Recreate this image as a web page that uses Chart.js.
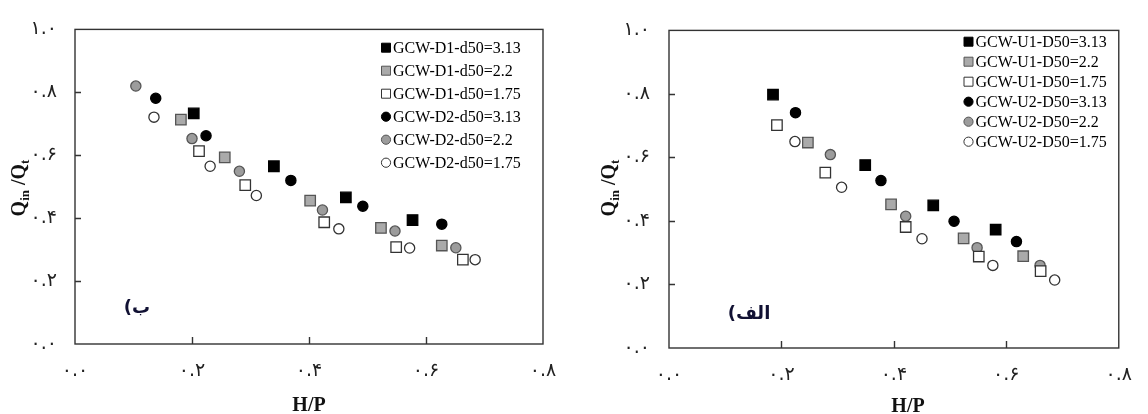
<!DOCTYPE html>
<html><head><meta charset="utf-8">
<script src="https://cdn.jsdelivr.net/npm/chart.js@4.4.1/dist/chart.umd.min.js"></script>
<style>
body{margin:0;background:#fff;width:1148px;height:414px;overflow:hidden;position:relative}
.p{position:absolute;top:0;width:574px;height:414px}
canvas{display:block}
</style></head>
<body>
<div class="p" style="left:0"><canvas id="c1" width="574" height="414"></canvas></div>
<div class="p" style="left:574px"><canvas id="c2" width="574" height="414"></canvas></div>
<script>
// ---- tick labels (Persian digits) ----
const xTickLabels = ['۰.۰','۰.۲','۰.۴','۰.۶','۰.۸'];
const yTickLabels = ['۰.۰','۰.۲','۰.۴','۰.۶','۰.۸','۱.۰'];

// ---- left panel (ب) ----
const leftNames = ['GCW-D1-d50=3.13','GCW-D1-d50=2.2','GCW-D1-d50=1.75','GCW-D2-d50=3.13','GCW-D2-d50=2.2','GCW-D2-d50=1.75'];
const D1_313_x = [0.203,0.340,0.463,0.577];
const D1_313_y = [0.733,0.565,0.466,0.394];
const D1_22_x  = [0.181,0.256,0.402,0.523,0.627];
const D1_22_y  = [0.713,0.593,0.456,0.369,0.313];
const D1_175_x = [0.212,0.291,0.426,0.549,0.663];
const D1_175_y = [0.613,0.505,0.387,0.308,0.268];
const D2_313_x = [0.138,0.224,0.369,0.492,0.627];
const D2_313_y = [0.781,0.662,0.520,0.438,0.381];
const D2_22_x  = [0.104,0.200,0.281,0.423,0.547,0.651];
const D2_22_y  = [0.820,0.653,0.549,0.426,0.359,0.306];
const D2_175_x = [0.135,0.231,0.310,0.451,0.572,0.684];
const D2_175_y = [0.721,0.565,0.472,0.366,0.305,0.268];

// ---- right panel (الف) ----
const rightNames = ['GCW-U1-D50=3.13','GCW-U1-D50=2.2','GCW-U1-D50=1.75','GCW-U2-D50=3.13','GCW-U2-D50=2.2','GCW-U2-D50=1.75'];
const U1_313_x = [0.185,0.349,0.470,0.581];
const U1_313_y = [0.798,0.576,0.449,0.373];
const U1_22_x  = [0.247,0.395,0.524,0.630];
const U1_22_y  = [0.647,0.452,0.345,0.289];
const U1_175_x = [0.192,0.278,0.421,0.551,0.661];
const U1_175_y = [0.702,0.552,0.381,0.288,0.242];
const U2_313_x = [0.225,0.377,0.507,0.618];
const U2_313_y = [0.741,0.527,0.399,0.335];
const U2_22_x  = [0.287,0.421,0.548,0.660];
const U2_22_y  = [0.609,0.415,0.316,0.260];
const U2_175_x = [0.224,0.307,0.450,0.576,0.686];
const U2_175_y = [0.650,0.506,0.344,0.260,0.214];

// ---- marker styles (order: black sq, gray sq, open sq, black circ, gray circ, open circ) ----
const markerStyles = [
  {shape:'rect',   fill:'#000000', stroke:'#000000'},
  {shape:'rect',   fill:'#aaaaaa', stroke:'#555555'},
  {shape:'rect',   fill:'#ffffff', stroke:'#333333'},
  {shape:'circle', fill:'#000000', stroke:'#000000'},
  {shape:'circle', fill:'#9c9c9c', stroke:'#555555'},
  {shape:'circle', fill:'#ffffff', stroke:'#333333'}
];

function pts(xs, ys){ return xs.map((x,i)=>({x:x, y:ys[i]})); }
function makeDatasets(names, series){
  return series.map((s,i)=>{
    const st = markerStyles[i];
    return {
      label: names[i],
      data: pts(s[0], s[1]),
      pointStyle: st.shape,
      pointRadius: st.shape==='rect' ? 7.4 : 5.1,
      pointBackgroundColor: st.fill,
      pointBorderColor: st.stroke,
      pointBorderWidth: 1.3,
      showLine: false
    };
  });
}

const tickFont = {family:'"DejaVu Sans"', size:19};

function framePlugin(){
  return {
    id:'frame',
    beforeDatasetsDraw(chart){
      const ctx = chart.ctx, a = chart.chartArea;
      const xs = chart.scales.x, ys = chart.scales.y;
      ctx.save();
      ctx.strokeStyle = '#333'; ctx.lineWidth = 1.4;
      ctx.strokeRect(a.left, a.top, a.right-a.left, a.bottom-a.top);
      ctx.beginPath();
      [0.2,0.4,0.6,0.8].forEach(v=>{ const y = Math.round(ys.getPixelForValue(v))+0.5; ctx.moveTo(a.left, y); ctx.lineTo(a.left+6, y); });
      [0.2,0.4,0.6].forEach(v=>{ const x = Math.round(xs.getPixelForValue(v))+0.5; ctx.moveTo(x, a.bottom); ctx.lineTo(x, a.bottom-7); });
      ctx.stroke();
      ctx.restore();
    }
  };
}

function annotPlugin(cfg){
  return {
    id:'annot',
    afterDraw(chart){
      const ctx = chart.ctx;
      ctx.save();
      // legend
      ctx.font = cfg.legFont + 'px "Liberation Serif"';
      ctx.textBaseline = 'middle'; ctx.textAlign = 'left';
      cfg.names.forEach((n,i)=>{
        const y = cfg.legY0 + i*cfg.legDy, x = cfg.legX, st = markerStyles[i];
        ctx.beginPath();
        if (st.shape==='rect') ctx.rect(x-4.5, y-4.5, 9, 9); else ctx.arc(x, y, 4.6, 0, Math.PI*2);
        ctx.fillStyle = st.fill; ctx.fill();
        ctx.lineWidth = 1; ctx.strokeStyle = st.stroke; ctx.stroke();
        ctx.fillStyle = '#000';
        ctx.fillText(n, x + cfg.legGap, y + 1);
      });
      // panel label
      ctx.font = 'bold 18px "DejaVu Sans"';
      ctx.fillStyle = '#111133';
      ctx.direction = 'rtl';
      ctx.textAlign = 'center';
      ctx.fillText(cfg.panel, cfg.panelX, cfg.panelY);
      ctx.direction = 'ltr';
      // x title
      ctx.fillStyle = '#111';
      ctx.textBaseline = 'alphabetic';
      ctx.font = 'bold 20px "Liberation Serif"';
      ctx.fillText('H/P', cfg.xtX, cfg.xtY);
      // y title (rotated) with subscripts
      const segs = [
        {t:'Q', s:20, d:0}, {t:'in', s:13, d:4}, {t:' /', s:20, d:0},
        {t:'Q', s:20, d:0}, {t:'t', s:13, d:4}
      ];
      let total = 0;
      segs.forEach(g=>{ ctx.font = 'bold '+g.s+'px "Liberation Serif"'; g.w = ctx.measureText(g.t).width; total += g.w; });
      ctx.translate(cfg.ytX, cfg.ytY);
      ctx.rotate(-Math.PI/2);
      ctx.textAlign = 'left';
      let px = -total/2;
      segs.forEach(g=>{ ctx.font = 'bold '+g.s+'px "Liberation Serif"'; ctx.fillText(g.t, px, g.d); px += g.w; });
      ctx.restore();
    }
  };
}

function makeChart(id, names, series, geo, cfg){
  return new Chart(document.getElementById(id), {
    type:'scatter',
    data:{ datasets: makeDatasets(names, series) },
    options:{
      responsive:false, animation:false,
      layout:{ padding:{ left:0, right:geo.right, top:geo.top, bottom:0 } },
      plugins:{ legend:{display:false}, tooltip:{enabled:false} },
      scales:{
        x:{
          type:'linear', min:0, max:0.8,
          ticks:{ stepSize:0.2, font:tickFont, color:'#222', padding:geo.xPad, maxRotation:0,
                  callback:(v)=>xTickLabels[Math.round(v/0.2)] },
          grid:{ display:false, drawTicks:false }, border:{ display:false },
          afterFit:(s)=>{ s.height = geo.xH; }
        },
        y:{
          type:'linear', min:0, max:1,
          ticks:{ stepSize:0.2, font:tickFont, color:'#222', padding:geo.yPad,
                  callback:(v)=>yTickLabels[Math.round(v/0.2)] },
          grid:{ display:false, drawTicks:false }, border:{ display:false },
          afterFit:(s)=>{ s.width = geo.yW; }
        }
      }
    },
    plugins:[framePlugin(), annotPlugin(cfg)]
  });
}

makeChart('c1', leftNames,
  [[D1_313_x,D1_313_y],[D1_22_x,D1_22_y],[D1_175_x,D1_175_y],[D2_313_x,D2_313_y],[D2_22_x,D2_22_y],[D2_175_x,D2_175_y]],
  {right:31, top:24, xH:70, yW:75, xPad:16, yPad:18},
  {names:leftNames, legFont:16, legX:386, legY0:47.7, legDy:23, legGap:7,
   panel:'ب)', panelX:137, panelY:308, xtX:309, xtY:411, ytX:25, ytY:188});

makeChart('c2', rightNames,
  [[U1_313_x,U1_313_y],[U1_22_x,U1_22_y],[U1_175_x,U1_175_y],[U2_313_x,U2_313_y],[U2_22_x,U2_22_y],[U2_175_x,U2_175_y]],
  {right:14, top:25, xH:66, yW:95, xPad:16, yPad:19},
  {names:rightNames, legFont:16, legX:394.5, legY0:41.7, legDy:20, legGap:7,
   panel:'الف)', panelX:175, panelY:314, xtX:334, xtY:412, ytX:41, ytY:188});
</script>
</body></html>
